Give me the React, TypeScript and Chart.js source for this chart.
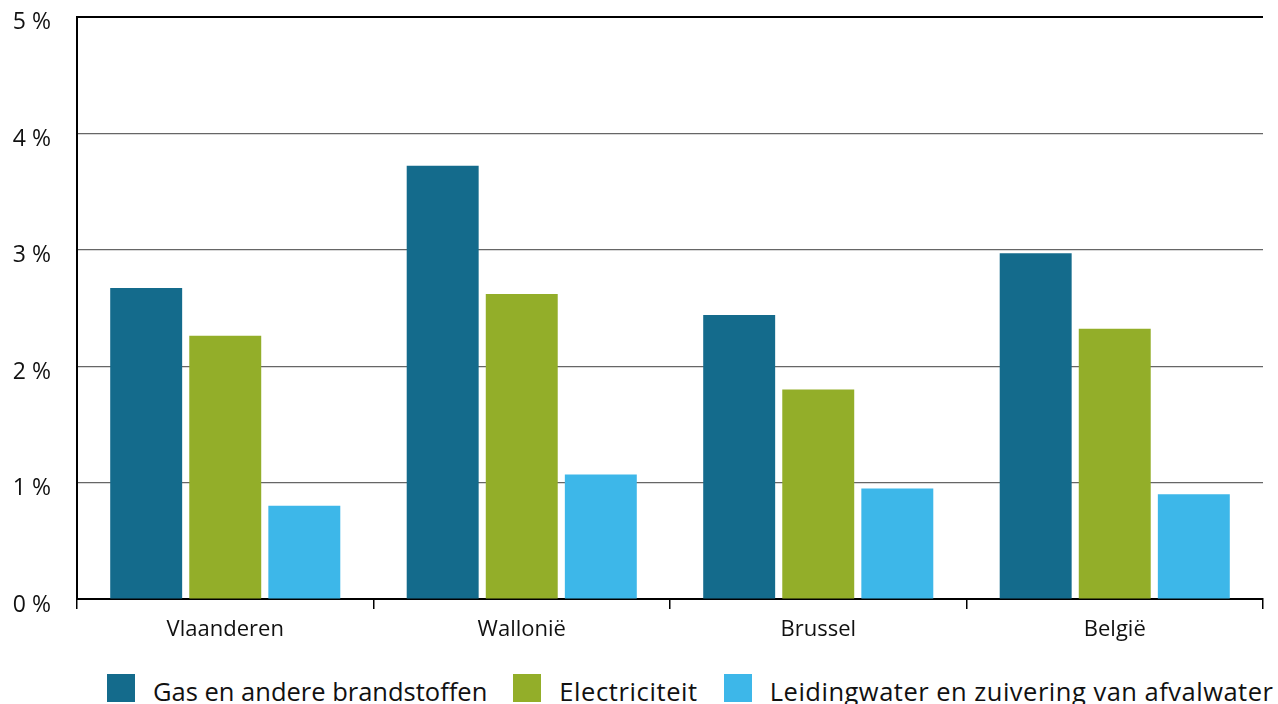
import React, { useEffect, useRef } from "react";
import { Chart, registerables } from "chart.js";

Chart.register(...registerables);

const categories = ["Vlaanderen", "Wallonië", "Brussel", "België"];
const seriesNames = [
  "Gas en andere brandstoffen",
  "Electriciteit",
  "Leidingwater en zuivering van afvalwater",
];
const gasValues = [2.67, 3.72, 2.44, 2.97];
const electricityValues = [2.26, 2.62, 1.8, 2.32];
const waterValues = [0.8, 1.07, 0.95, 0.9];
const seriesColors = ["#146B8C", "#93AE29", "#3DB7E9"];
const yTicks = [0, 1, 2, 3, 4, 5];
const legendLetterSpacing = [0, 0.6, 0.5];

const FONT = "'Open Sans', 'Noto Sans', sans-serif";

export default function App() {
  const canvasRef = useRef<HTMLCanvasElement | null>(null);

  useEffect(() => {
    const ctx = canvasRef.current;
    if (!ctx) return;
    const allSeries = [gasValues, electricityValues, waterValues];
    const chart = new Chart(ctx, {
      type: "bar",
      data: {
        labels: categories,
        datasets: allSeries.map((vals, i) => ({
          label: seriesNames[i],
          data: vals,
          backgroundColor: seriesColors[i],
          borderWidth: 0,
          categoryPercentage: 0.8,
          barPercentage: 0.91,
        })),
      },
      options: {
        animation: false,
        responsive: false,
        maintainAspectRatio: false,
        layout: { padding: { top: 0, right: 15, left: 0, bottom: 0 } },
        plugins: {
          legend: { display: false },
          tooltip: { enabled: false },
        },
        scales: {
          x: {
            offset: true,
            grid: {
              display: true,
              offset: true,
              drawOnChartArea: false,
              drawTicks: true,
              tickLength: 10,
              color: "#000000",
              lineWidth: 1.5,
            },
            border: { display: true, color: "#000000", width: 2 },
            ticks: {
              color: "#111111",
              font: { family: FONT, size: 22 },
              padding: 8,
            },
            afterFit: (scale: any) => {
              scale.height = 61;
            },
          },
          y: {
            min: 0,
            max: 5,
            afterBuildTicks: (scale: any) => {
              scale.ticks = yTicks.map((v) => ({ value: v }));
            },
            grid: {
              color: (c: any) => (c.tick && c.tick.value === 5 ? "#000000" : "#666666"),
              lineWidth: (c: any) => (c.tick && c.tick.value === 5 ? 2 : 1.2),
              drawTicks: false,
            },
            border: { display: true, color: "#000000", width: 2 },
            ticks: {
              color: "#111111",
              font: { family: FONT, size: 23 },
              padding: 26,
              labelOffset: 6,
              callback: (v: any) => `${v} %`,
            },
            afterFit: (scale: any) => {
              scale.width = 77;
            },
          },
        },
      },
    });
    return () => chart.destroy();
  }, []);

  return (
    <div
      style={{
        position: "absolute",
        left: 0,
        top: 0,
        width: 1278,
        height: 704,
        overflow: "hidden",
        background: "#ffffff",
        fontFamily: FONT,
      }}
    >
      <canvas
        ref={canvasRef}
        width={1278}
        height={683}
        style={{ display: "block", position: "absolute", left: 0, top: -23 }}
      />
      <div
        style={{
          position: "absolute",
          left: 107,
          top: 674,
          display: "flex",
          alignItems: "center",
          whiteSpace: "nowrap",
        }}
      >
        {seriesNames.map((name, i) => (
          <div key={name} style={{ display: "flex", alignItems: "center", marginRight: 26 }}>
            <span
              style={{
                display: "inline-block",
                width: 28,
                height: 28,
                background: seriesColors[i],
                marginRight: 18,
              }}
            />
            <span
              style={{
                fontSize: 25.5,
                color: "#111111",
                lineHeight: "28px",
                position: "relative",
                top: 3,
                letterSpacing: legendLetterSpacing[i],
              }}
            >
              {name}
            </span>
          </div>
        ))}
      </div>
    </div>
  );
}
